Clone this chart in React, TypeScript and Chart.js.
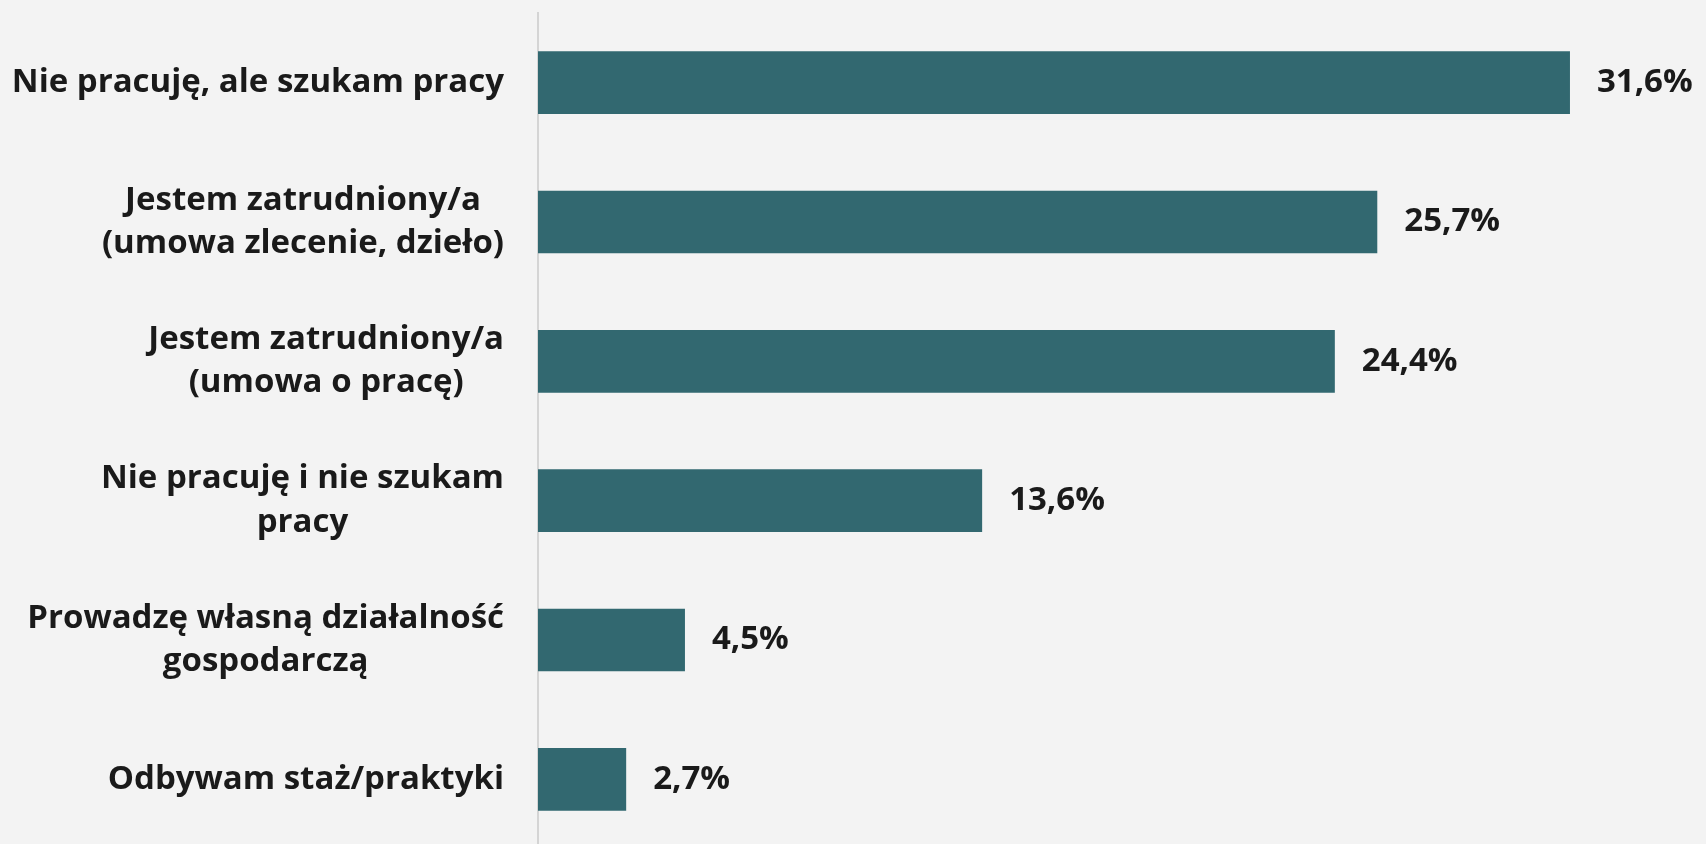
import React, { useEffect, useRef } from "react";
import { Chart, registerables } from "chart.js";

Chart.register(...registerables);

const categories: string[][] = [
  ["Nie pracuję, ale szukam pracy"],
  ["Jestem zatrudniony/a", "(umowa zlecenie, dzieło)"],
  ["Jestem zatrudniony/a", "(umowa o pracę)"],
  ["Nie pracuję i nie szukam", "pracy"],
  ["Prowadzę własną działalność", "gospodarczą"],
  ["Odbywam staż/praktyki"],
];
const values: number[] = [31.6, 25.7, 24.4, 13.6, 4.5, 2.7];
const valueLabels: string[] = ["31,6%", "25,7%", "24,4%", "13,6%", "4,5%", "2,7%"];

const FONT = "bold 33px 'Open Sans'";
const TEXT = "#1a1a1a";

const labelPlugin = {
  id: "customLabels",
  afterDatasetsDraw(chart: any) {
    const ctx = chart.ctx as CanvasRenderingContext2D;
    const meta = chart.getDatasetMeta(0);
    ctx.save();
    ctx.font = FONT;
    ctx.fillStyle = TEXT;
    ctx.textBaseline = "middle";
    meta.data.forEach((bar: any, i: number) => {
      ctx.textAlign = "left";
      ctx.fillText(valueLabels[i], bar.x + 27, bar.y);
      const lines = categories[i];
      const widths = lines.map((l) => ctx.measureText(l).width);
      const blockW = Math.max(...widths);
      const right = 504;
      const cx = right - blockW / 2;
      const lh = 43.5;
      const startY = bar.y - ((lines.length - 1) * lh) / 2;
      ctx.textAlign = "center";
      lines.forEach((l, j) => ctx.fillText(l, cx, startY + j * lh));
    });
    ctx.restore();
  },
};

export default function App() {
  const ref = useRef<HTMLCanvasElement | null>(null);
  useEffect(() => {
    if (!ref.current) return;
    const chart = new Chart(ref.current, {
      type: "bar",
      data: {
        labels: categories.map((c) => c.join(" ")),
        datasets: [
          {
            data: values,
            backgroundColor: "#326870",
            borderWidth: 0,
            barPercentage: 0.45,
            categoryPercentage: 1,
          },
        ],
      },
      options: {
        indexAxis: "y",
        animation: false,
        responsive: true,
        maintainAspectRatio: false,
        layout: { padding: { left: 0, right: 25, top: 13, bottom: 0 } },
        plugins: { legend: { display: false }, tooltip: { enabled: false } },
        scales: {
          x: { display: false, min: 0, max: 35 },
          y: {
            ticks: { display: false },
            grid: { display: false },
            border: { display: true, color: "#d4d4d4", width: 2 },
            afterFit: (scale: any) => {
              scale.width = 538;
            },
          },
        },
      },
      plugins: [labelPlugin],
    });
    return () => chart.destroy();
  }, []);
  return (
    <div
      style={{
        position: "fixed",
        left: 0,
        top: 0,
        width: 1706,
        height: 844,
        overflow: "hidden",
        background: "#f3f3f3",
      }}
    >
      <div style={{ position: "relative", width: 1706, height: 849 }}>
        <canvas ref={ref} />
      </div>
    </div>
  );
}
